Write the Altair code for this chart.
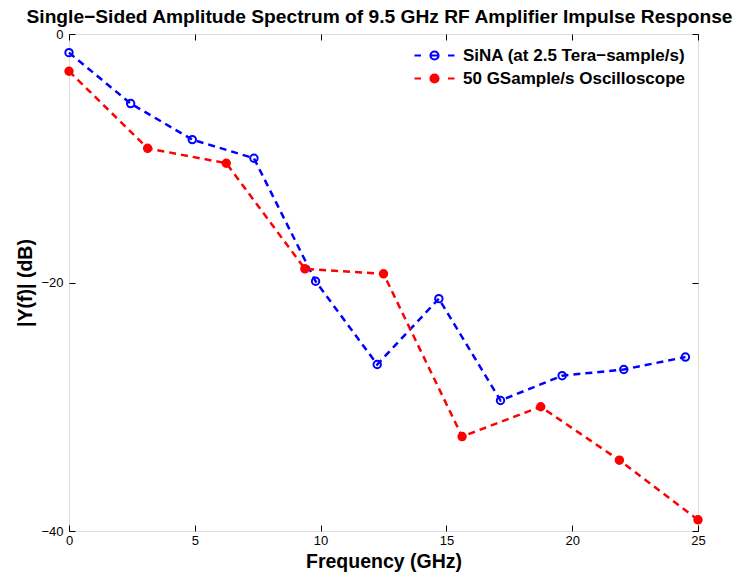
import altair as alt
import pandas as pd

# ---- data ----
sina_label = "SiNA (at 2.5 Tera\u2212sample/s)"
scope_label = "50 GSample/s Oscilloscope"

sina_freq = [0, 2.45, 4.9, 7.35, 9.8, 12.25, 14.7, 17.15, 19.6, 22.05, 24.5]
sina_db = [-1.5, -5.6, -8.5, -10.0, -19.9, -26.6, -21.3, -29.5, -27.5, -27.0, -26.0]

scope_freq = [0, 3.125, 6.25, 9.375, 12.5, 15.625, 18.75, 21.875, 25.0]
scope_db = [-3.0, -9.2, -10.4, -18.9, -19.3, -32.4, -30.0, -34.3, -39.1]

x_ticks = [0, 5, 10, 15, 20, 25]
y_ticks = [-40, -20, 0]

series_order = [sina_label, scope_label]
series_colors = ["#0000ff", "#ff0000"]
series_fill = ["transparent", "#ff0000"]

df = pd.DataFrame(
    {
        "f": sina_freq + scope_freq,
        "db": sina_db + scope_db,
        "series": [sina_label] * len(sina_freq) + [scope_label] * len(scope_freq),
        "order": list(range(len(sina_freq))) + list(range(len(scope_freq))),
    }
)

W, H = 629, 497
FONT = "Liberation Sans"
TICK = 6

xs = alt.Scale(domain=[0, 25], nice=False, zero=False)
ys = alt.Scale(domain=[-40, 0], nice=False, zero=False)

LEG_PATH = (
    "M-2,0H-1.35M1.35,0H2M-0.4,0H0.4"
    "M-0.4,0A0.4,0.4,0,1,1,0.4,0A0.4,0.4,0,1,1,-0.4,0Z"
)

legend = alt.Legend(
    orient="none",
    legendX=354,
    legendY=10,
    title=None,
    symbolType=LEG_PATH,
    symbolSize=400,
    symbolStrokeWidth=2.2,
    symbolOpacity=1,
    labelFont=FONT,
    labelFontSize=17,
    labelFontWeight="bold",
    labelColor="black",
    labelOffset=17,
    labelLimit=500,
    rowPadding=3,
    padding=0,
)

color_enc = alt.Color(
    "series:N",
    scale=alt.Scale(domain=series_order, range=series_colors),
    legend=legend,
    sort=series_order,
)
fill_enc = alt.Fill(
    "series:N",
    scale=alt.Scale(domain=series_order, range=series_fill),
    legend=legend,
    sort=series_order,
)

x_main = alt.X(
    "f:Q",
    scale=xs,
    axis=alt.Axis(
        orient="bottom",
        values=x_ticks,
        ticks=False,
        tickSize=0,
        domain=False,
        grid=False,
        labelFlush=False,
        labelFont=FONT,
        labelFontSize=13,
        labelColor="black",
        labelPadding=3,
        title="Frequency (GHz)",
        titleFont=FONT,
        titleFontSize=19.5,
        titleFontWeight="bold",
        titleColor="black",
        titlePadding=5,
    ),
)
y_main = alt.Y(
    "db:Q",
    scale=ys,
    axis=alt.Axis(
        orient="left",
        values=y_ticks,
        ticks=False,
        tickSize=0,
        domain=False,
        grid=False,
        labelFlush=False,
        labelFont=FONT,
        labelFontSize=13,
        labelColor="black",
        labelPadding=6,
        title="|Y(f)| (dB)",
        titleFont=FONT,
        titleFontSize=19.5,
        titleFontWeight="bold",
        titleColor="black",
        titlePadding=5,
    ),
)

lines = (
    alt.Chart(df)
    .mark_line(strokeDash=[7, 5], strokeWidth=2.5)
    .encode(x=x_main, y=y_main, color=color_enc, order="order:Q")
)

points = (
    alt.Chart(df)
    .mark_point(filled=False, strokeWidth=2, opacity=1, shape="circle", size=55)
    .encode(
        x=alt.X("f:Q", scale=xs, axis=None),
        y=alt.Y("db:Q", scale=ys, axis=None),
        color=color_enc,
        fill=fill_enc,
    )
)


def tick_axis(xorient, yorient):
    # invisible copy of the data carrying an axis whose ticks point inward
    return (
        alt.Chart(df)
        .mark_point(opacity=0)
        .encode(
            x=alt.X(
                "f:Q",
                scale=xs,
                axis=alt.Axis(
                    orient=xorient,
                    offset=-H,
                    values=x_ticks,
                    ticks=True,
                    tickSize=TICK,
                    tickColor="black",
                    tickWidth=1,
                    labels=False,
                    domain=False,
                    grid=False,
                    title=None,
                ),
            ),
            y=alt.Y(
                "db:Q",
                scale=ys,
                axis=alt.Axis(
                    orient=yorient,
                    offset=-W,
                    values=y_ticks,
                    ticks=True,
                    tickSize=TICK,
                    tickColor="black",
                    tickWidth=1,
                    labels=False,
                    domain=False,
                    grid=False,
                    title=None,
                ),
            ),
        )
    )


ticks_a = tick_axis("top", "right")
ticks_b = tick_axis("bottom", "left")

chart = (
    alt.layer(lines, points, ticks_a, ticks_b)
    .resolve_axis(x="independent", y="independent")
    .properties(
        width=W,
        height=H,
        autosize=alt.AutoSizeParams(type="none"),
        padding={"left": 61, "top": 26, "right": 45, "bottom": 47},
        title=alt.TitleParams(
            text="Single\u2212Sided Amplitude Spectrum of 9.5 GHz RF Amplifier Impulse Response",
            font=FONT,
            fontSize=19.2,
            fontWeight="bold",
            color="black",
            anchor="middle",
            baseline="alphabetic",
            dx=-4,
            dy=16,
            offset=2,
        ),
    )
    .configure_view(stroke="black", strokeWidth=1.2)
    .configure(background="white")
)

chart.save("out.html", embed_options={"renderer": "svg", "actions": False})
